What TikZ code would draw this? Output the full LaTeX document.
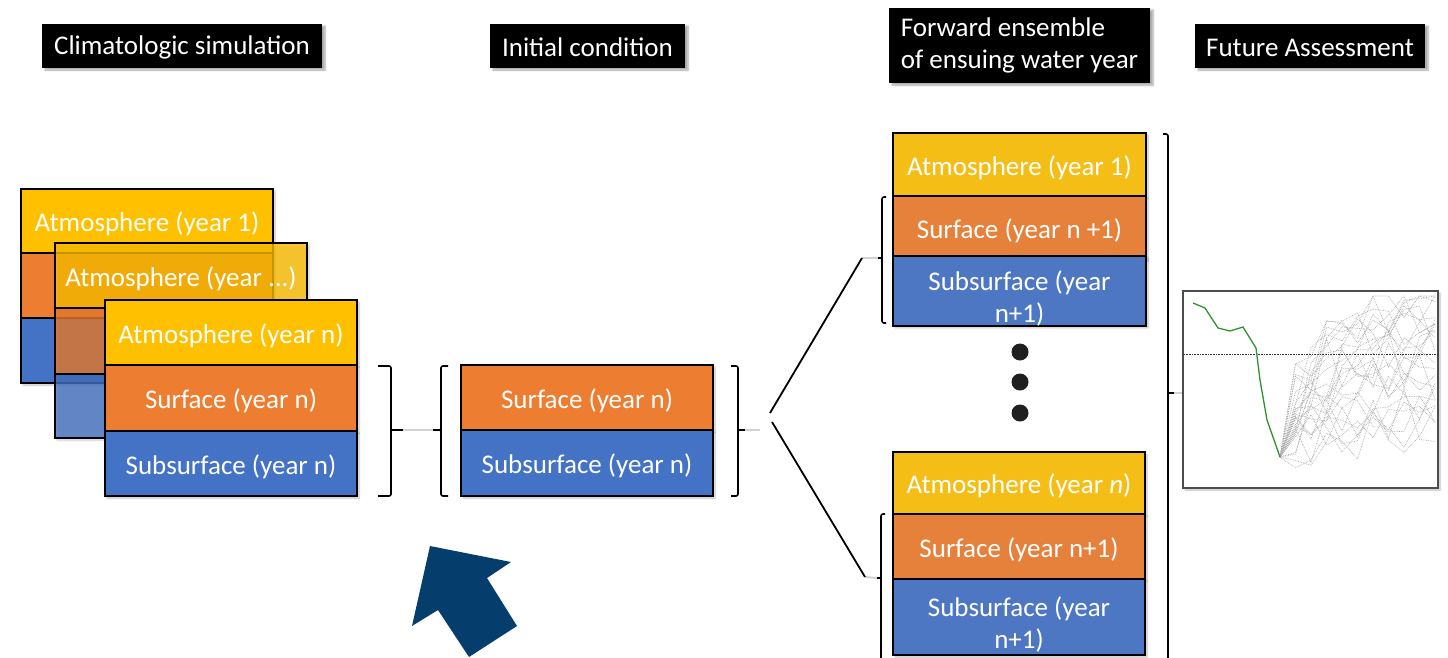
\documentclass[tikz,border=0pt]{standalone}
\usepackage{fontspec}
\setmainfont{Carlito}
\usetikzlibrary{shadows.blur}
\definecolor{cyel}{HTML}{FFC000}
\definecolor{corg}{HTML}{ED7D31}
\definecolor{cblu}{HTML}{4472C4}
\definecolor{ryel}{HTML}{F5BE17}
\definecolor{rorg}{HTML}{E6813B}
\definecolor{rblu}{HTML}{4E77C3}
\definecolor{navy}{HTML}{053E6C}
\definecolor{grn}{HTML}{33902F}
\begin{document}
\begin{tikzpicture}[x=1pt,y=-1pt,
  txt/.style={font=\fontsize{27}{32}\selectfont},
  layer/.style={txt, draw=black, line width=1.5pt, minimum width=252pt, inner sep=0pt,
    text=white, align=center, text height=26pt,
    blur shadow={shadow xshift=2pt, shadow yshift=-2pt, shadow blur steps=6, shadow opacity=25}},
  twoline/.style={text height=66pt},
  ghost/.style={fill opacity=0.78, text opacity=1},
  header/.style={txt, fill=black, text=white, minimum height=44pt, inner sep=0pt,
    blur shadow={shadow xshift=3pt, shadow yshift=-2pt, shadow blur steps=6, shadow opacity=35}},
  brace/.style={draw=black, line width=1.6pt, rounded corners=2pt},
  faint/.style={draw=gray!35, line width=2pt},
  branch/.style={draw=black, line width=1.8pt},
  dot/.style={circle, fill=black!88, minimum size=17pt, inner sep=0pt},
  ens/.style={draw=gray!65, densely dotted, line width=0.7pt},
]
\useasboundingbox (0,0) rectangle (1448,657);

% headers
\node[header, minimum width=280pt, text height=21pt] (h1) at (182,46) {Climatologic simulation};
\node[header, minimum width=195pt, text height=21pt] (h2) at (587.5,46) {Initial condition};
\node[header, minimum width=261pt, minimum height=75pt, align=left] (h3) at (1019.5,45.5) {Forward ensemble\\of ensuing water year};
\node[header, minimum width=230pt, text height=21pt] (h4) at (1310,46) {Future Assessment};

% left stacks
\node[layer, fill=cyel, minimum height=64pt] (s1a) at (147,221) {Atmosphere (year 1)};
\node[layer, fill=corg, minimum height=65pt] (s1b) at (147,285.5) {};
\node[layer, fill=cblu, minimum height=65pt] (s1c) at (147,350.5) {};

\node[layer, ghost, fill=cyel, minimum height=65pt] (s2a) at (181,275.5) {Atmosphere (year ...)};
\node[layer, ghost, fill=corg, minimum height=66pt] (s2b) at (181,341) {};
\node[layer, ghost, fill=cblu, minimum height=64pt] (s2c) at (181,406) {};

\node[layer, fill=cyel, minimum height=65pt] (s3a) at (231,332.5) {Atmosphere (year n)};
\node[layer, fill=corg, minimum height=66pt] (s3b) at (231,398) {Surface (year n)};
\node[layer, fill=cblu, minimum height=65pt] (s3c) at (231,463.5) {Subsurface (year n)};

% initial condition
\node[layer, fill=corg, minimum height=65pt] (ma) at (587,397.5) {Surface (year n)};
\node[layer, fill=cblu, minimum height=66pt] (mb) at (587,463) {Subsurface (year n)};

% right stacks
\node[layer, fill=ryel, minimum width=253pt, minimum height=63pt] (ta) at (1019.5,164.5) {Atmosphere (year 1)};
\node[layer, fill=rorg, minimum width=253pt, minimum height=63pt] (tb) at (1019.5,227.5) {Surface (year n +1)};
\node[layer, twoline, fill=rblu, minimum width=253pt, minimum height=64pt] (tc) at (1019.5,291) {Subsurface (year\\n+1)};

\node[layer, fill=ryel, minimum width=252pt, minimum height=62pt] (ba) at (1019,483) {Atmosphere (year \textit{n})};
\node[layer, fill=rorg, minimum width=252pt, minimum height=65pt] (bb) at (1019,546.5) {Surface (year n+1)};
\node[layer, twoline, fill=rblu, minimum width=252pt, minimum height=76pt] (bc) at (1019,617) {Subsurface (year\\n+1)};

% dots
\node[dot] (d1) at (1020,352) {};
\node[dot] (d2) at (1020,382) {};
\node[dot] (d3) at (1020,413) {};

% brace tips
\coordinate (t1) at (403,430);
\coordinate (t2) at (433,430);
\coordinate (t3) at (745,430);
\coordinate (t3b) at (760,430);
\coordinate (u0) at (770,413);
\coordinate (l0) at (772,422);
\coordinate (u1) at (862,258);
\coordinate (u2) at (878,258);
\coordinate (l1) at (865,577);
\coordinate (l2) at (877,578);
\coordinate (g1) at (1174,393);
\coordinate (g2) at (1183,393);

% braces
\draw[brace] (378,366) -- (391,366) -- (391,496) -- (378,496);
\draw[brace] (391,430) -- (t1);
\draw[brace] (448,366) -- (441,366) -- (441,496) -- (448,496);
\draw[brace] (441,430) -- (t2);
\draw[brace] (731,366) -- (738,366) -- (738,496) -- (731,496);
\draw[brace] (738,430) -- (t3);
\draw[brace] (886,197) -- (882,197) -- (882,323) -- (886,323);
\draw[brace] (882,258) -- (u2);
\draw[brace] (885,514) -- (881,514) -- (881,660);
\draw[brace] (881,578) -- (l2);
\draw[brace] (1163,134) -- (1168,134) -- (1168,660);
\draw[brace] (1168,393) -- (g1);

% faint links
\draw[faint] (t1) -- (t2);
\draw[faint] (t3) -- (t3b);
\draw[faint] (u1) -- (u2);
\draw[faint] (l1) -- (l2);
\draw[faint] (g1) -- (g2);

% branches
\draw[branch] (u0) -- (u1);
\draw[branch] (l0) -- (l1);

% graph
\node[draw=gray!60!black, line width=1.2pt, minimum width=255pt, minimum height=197pt, inner sep=0pt, fill=white,
  blur shadow={shadow xshift=2pt, shadow yshift=-2pt, shadow blur steps=6, shadow opacity=25}] (gr) at (1310.5,389.5) {};
\draw[black!80, densely dotted, line width=0.6pt] (gr.west |- 0,354) -- (gr.east |- 0,354);
\coordinate (start) at (1280,457);
\pgfmathsetseed{31}
\foreach \i in {1,...,26}{
  \pgfmathsetmacro{\amp}{30+rnd*150}
  \pgfmathsetmacro{\rate}{1.0+rnd*4}
  \draw[ens] (start) \foreach \k in {1,...,10}{ -- ({1280+\k*15.5},{max(296,min(484,457-\amp*(1-exp(-\k/\rate))+rand*32))}) };
}
\draw[grn, line width=1.3pt] (1193,303) -- (1205,308) -- (1218,328) -- (1230,331) -- (1243,327) -- (1256,348) -- (1260,380) -- (1267,420) -- (start);

% big arrow
\fill[navy] (430,546) -- (511,562) -- (487,578) -- (517,626) -- (469,657) -- (438,610) -- (412,626) -- cycle;
\end{tikzpicture}
\end{document}
